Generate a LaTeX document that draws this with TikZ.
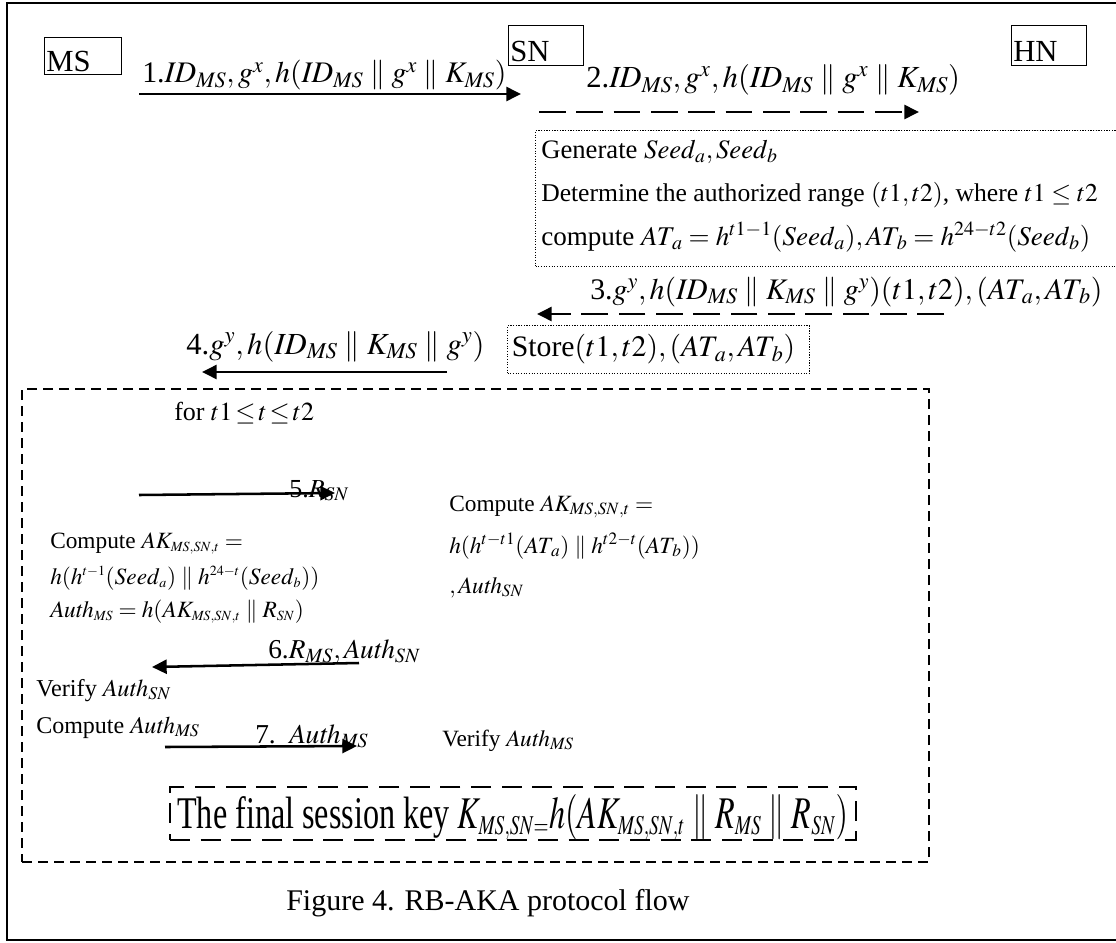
\documentclass[tikz,border=0pt]{standalone}
\usepackage{mathptmx}
\usepackage[no-math]{fontspec}
\setmainfont{Liberation Serif}
\usepackage{graphicx}
\usetikzlibrary{arrows.meta}
\newcommand{\mi}[1]{\mathit{#1}}
\newcommand{\ssub}[1]{{\scriptscriptstyle #1}}
\newcommand{\ATs}[1]{AT_{\mkern2mu #1}}
\begin{document}
\begin{tikzpicture}[x=0.75pt,y=-0.75pt,
  tx/.style={anchor=base west,inner sep=0pt,font=\fontsize{23}{26}\selectfont},
  txd/.style={tx,font=\fontsize{20}{24}\selectfont},
  txs/.style={tx,font=\fontsize{17.5}{20}\selectfont},
  txm/.style={tx,font=\fontsize{20.5}{24}\selectfont},
  ent/.style={draw,line width=1.1pt,minimum width=56.25pt,minimum height=30pt,inner sep=0pt,anchor=north west},
  enttxt/.style={anchor=base west,inner sep=0pt,font=\fontsize{23}{26}\selectfont},
  msg/.style={line width=1.9pt,-{Triangle[length=11pt,width=10.5pt]}},
  dmsg/.style={msg,dash pattern=on 20pt off 8pt},
  dotbox/.style={draw,line width=0.8pt,dash pattern=on 0.8pt off 1.2pt,anchor=north west,inner sep=0pt},
  bigdash/.style={draw,line width=1.6pt,dash pattern=on 7.5pt off 4.5pt,anchor=north west,inner sep=0pt},
  keydash/.style={draw,line width=1.6pt,dash pattern=on 15pt off 8pt,anchor=north west,inner sep=0pt}]
\useasboundingbox (0,0) rectangle (1116,942);
% outer frame (right side lies outside the picture)
\draw[line width=1.9pt] (1140,3) -- (7,3) -- (7,940) -- (1140,940);

% entities
\node[ent,minimum width=57.75pt,minimum height=27.75pt] (msbox) at (44,37) {};
\node[enttxt] (mst) at (46,71) {MS};
\node[ent] (snbox) at (508,25) {};
\node[enttxt] (snt) at (510,61) {SN};
\node[ent] (hnbox) at (1011,25) {};
\node[enttxt] (hnt) at (1013,61) {HN};

% message 1
\node[tx,font=\fontsize{22.4}{26}\selectfont] (l1) at (142,83) {1.$\mi{ID}_{\mi{MS}},g^x,h(\mi{ID}_{\mi{MS}}\parallel g^x\parallel K_{\mi{MS}})$};
\coordinate (m1s) at (139,94); \coordinate (m1e) at (521,94);
\draw[msg] (m1s) -- (m1e);

% message 2
\node[tx] (l2) at (586,88) {2.$\mi{ID}_{\mi{MS}},g^x,h(\mi{ID}_{\mi{MS}}\parallel g^x\parallel K_{\mi{MS}})$};
\coordinate (m2s) at (539,112); \coordinate (m2e) at (919,112);
\draw[dmsg] (m2s) -- (m2e);

% HN computation
\node[dotbox,minimum width=442.5pt,minimum height=102pt] (gen) at (535,130) {};
\node[txd] (g1) at (541,158) {Generate $\mi{Seed}_a,\mi{Seed}_b$};
\node[txd,font=\fontsize{19.2}{23}\selectfont] (g2) at (541,201) {Determine the authorized range $(t1,t2)$, where $t1\le t2$};
\node[txd,font=\fontsize{20.3}{24}\selectfont] (g3) at (541,245) {compute $\ATs{a}=h^{t1-1}(\mi{Seed}_a),\ATs{b}=h^{24-t2}(\mi{Seed}_b)$};

% message 3
\node[tx,font=\fontsize{22.4}{26}\selectfont] (l3) at (590,299) {3.$g^y,h(\mi{ID}_{\mi{MS}}\parallel K_{\mi{MS}}\parallel g^y)(t1,t2),(\ATs{a},\ATs{b})$};
\coordinate (m3s) at (944,314); \coordinate (m3e) at (537,314);
\draw[dmsg] (m3s) -- (m3e);

% store
\node[dotbox,minimum width=226.5pt,minimum height=36pt,inner xsep=3pt,text width=220pt,align=left,font=\fontsize{22.3}{26}\selectfont] (store) at (507,325) {Store$(t1,t2),(\ATs{a},\ATs{b})$};

% message 4
\node[tx] (l4) at (186,354) {4.$g^y,h(\mi{ID}_{\mi{MS}}\parallel K_{\mi{MS}}\parallel g^y)$};
\coordinate (m4s) at (447,372); \coordinate (m4e) at (202,372);
\draw[msg] (m4s) -- (m4e);

% loop box
\node[bigdash,minimum width=680.25pt,minimum height=354.75pt] (loop) at (21,388) {};
\node[tx,font=\fontsize{19.5}{22}\selectfont] (for) at (174,420) {for $t1\!\le\! t\!\le\! t2$};

% message 5
\node[txm,font=\fontsize{19.5}{22}\selectfont] (l5) at (289,497) {5.$R_{\mi{SN}}$};
\coordinate (m5s) at (139,495); \coordinate (m5e) at (335,493);
\draw[msg] (m5s) -- (m5e);

% SN computation
\node[txs] (r1) at (449,511) {Compute $AK_{\mi{MS},\mi{SN},t}=$};
\node[txs] (r2) at (449,553) {$h(h^{t-t1}(\ATs{a})\parallel h^{t2-t}(\ATs{b}))$};
\node[txs] (r3) at (449,593) {$,\mi{Auth}_{\mi{SN}}$};

% MS computation
\node[txs] (c1) at (50,548) {Compute $AK_{\ssub{\mi{MS},\mi{SN},t}}=$};
\node[txs] (c2) at (50,584) {$h(h^{\ssub{t-1}}(\mi{Seed}_{\ssub{a}})\parallel h^{\ssub{24-t}}(\mi{Seed}_{\ssub{b}}))$};
\node[txs] (c3) at (50,617) {$\mi{Auth}_{\ssub{\mi{MS}}}=h(AK_{\ssub{\mi{MS},\mi{SN},t}}\parallel R_{\ssub{\mi{SN}}})$};

% message 6
\node[txm] (l6) at (268,658) {6.$R_{\mi{MS}},\mi{Auth}_{\mi{SN}}$};
\coordinate (m6s) at (359,663); \coordinate (m6e) at (152,667);
\draw[msg] (m6s) -- (m6e);

\node[txs,font=\fontsize{18.2}{21}\selectfont] (v1) at (36,696) {Verify $\mi{Auth}_{\mi{SN}}$};
\node[txs,font=\fontsize{18}{21}\selectfont] (v2) at (36,733) {Compute $\mi{Auth}_{\mi{MS}}$};

% message 7
\node[txm] (l7) at (255,743) {7.\ \ $\mi{Auth}_{\mi{MS}}$};
\coordinate (m7s) at (165,747); \coordinate (m7e) at (357,746);
\draw[msg] (m7s) -- (m7e);
\node[txs] (v3) at (442,746) {Verify $\mi{Auth}_{\mi{MS}}$};

% final key
\node[keydash,minimum width=514.5pt,minimum height=39.75pt] (keybox) at (169,786) {};
\node[tx,font=\fontsize{34}{38}\selectfont] (key) at (177,828) {\scalebox{0.71}[1]{The final session key $K_{\ssub{\mi{MS},\mi{SN}=}}h(AK_{\ssub{\mi{MS},\mi{SN},t}}\parallel R_{\ssub{\mi{MS}}}\parallel R_{\ssub{\mi{SN}}})$}};

% caption
\node[tx,font=\fontsize{22.5}{26}\selectfont] (cap) at (286,910) {Figure 4. RB-AKA protocol flow};
\end{tikzpicture}
\end{document}
